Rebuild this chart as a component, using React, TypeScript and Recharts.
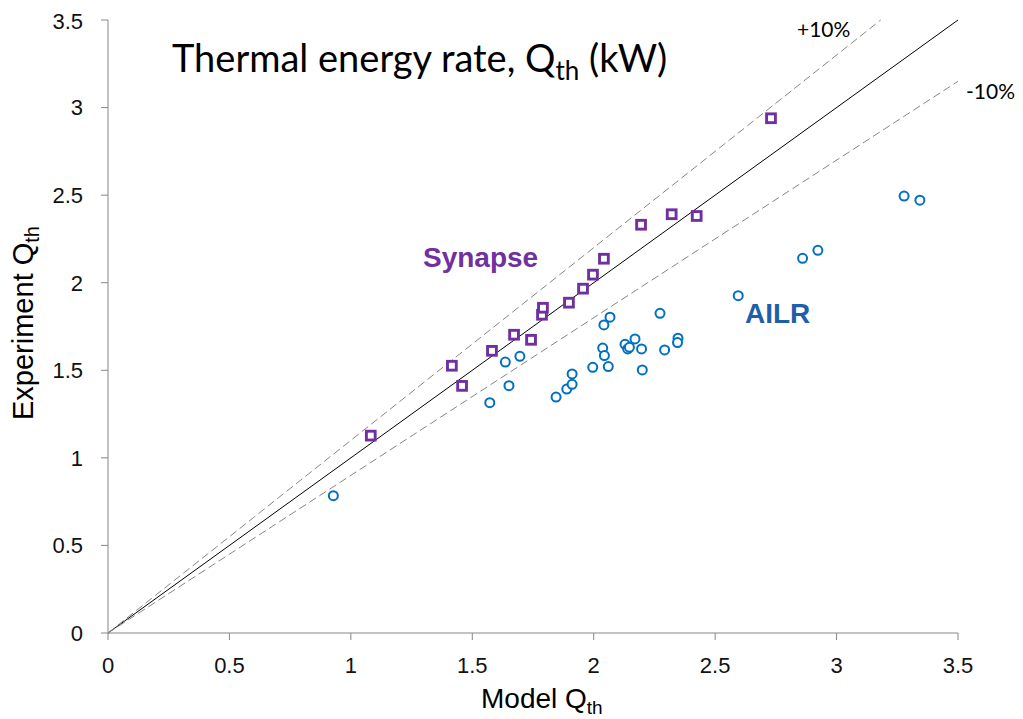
import React from "react";
import {
  ScatterChart,
  Scatter,
  XAxis,
  YAxis,
  ReferenceLine,
} from "recharts";

// model vs experiment, kW
const synapseModel = [
  1.082, 1.416, 1.458, 1.581, 1.672, 1.742, 1.787, 1.791, 1.898, 1.956,
  1.997, 2.042, 2.195, 2.321, 2.424, 2.73,
];
const synapseExp = [
  1.127, 1.526, 1.411, 1.611, 1.703, 1.674, 1.817, 1.857, 1.886, 1.966,
  2.046, 2.137, 2.331, 2.391, 2.381, 2.939,
];

const ailrModel = [
  0.928, 1.572, 1.636, 1.651, 1.696, 1.845, 1.889, 1.911, 1.911, 1.996,
  2.042, 2.067, 2.037, 2.044, 2.06, 2.129, 2.14, 2.147, 2.17, 2.197,
  2.2, 2.273, 2.292, 2.347, 2.345, 2.595, 2.86, 2.923, 3.278, 3.343,
];
const ailrExp = [
  0.784, 1.315, 1.547, 1.412, 1.58, 1.347, 1.393, 1.42, 1.479, 1.517,
  1.759, 1.803, 1.627, 1.584, 1.521, 1.648, 1.622, 1.631, 1.679, 1.622,
  1.502, 1.825, 1.616, 1.683, 1.658, 1.926, 2.139, 2.185, 2.495, 2.471,
];

const axisTicks = [0, 0.5, 1, 1.5, 2, 2.5, 3, 3.5];
const AXIS_MAX = 3.5;
const BAND = 0.1; // +/-10%

const synapse = synapseModel.map((x, i) => ({ x, y: synapseExp[i] }));
const ailr = ailrModel.map((x, i) => ({ x, y: ailrExp[i] }));

const PURPLE = "#7030A0";
const BLUE = "#0070C0";
const GREY = "#868686";
const SANS = "'Liberation Sans', Arial, sans-serif";

const SquareMark = (props: any) => {
  const { cx, cy } = props;
  return (
    <rect
      x={cx - 4.4}
      y={cy - 4.4}
      width={8.8}
      height={8.8}
      fill="#fff"
      stroke={PURPLE}
      strokeWidth={2.9}
    />
  );
};

const CircleMark = (props: any) => {
  const { cx, cy } = props;
  return (
    <circle
      cx={cx}
      cy={cy}
      r={4.5}
      fill="#fff"
      stroke={BLUE}
      strokeWidth={2}
    />
  );
};

const fmt = (v: number) => String(v);

export default function App() {
  return (
    <div style={{ position: "relative", width: 1015, height: 711 }}>
      <ScatterChart
        width={1015}
        height={711}
        margin={{ top: 12, right: 65, bottom: 0, left: 0 }}
      >
        <XAxis
          type="number"
          dataKey="x"
          domain={[0, AXIS_MAX]}
          ticks={axisTicks}
          tickFormatter={fmt}
          height={86}
          tickSize={7}
          tickMargin={17}
          axisLine={{ stroke: GREY }}
          tickLine={{ stroke: GREY }}
          tick={{ fill: "#111", fontSize: 22, fontFamily: SANS }}
        />
        <YAxis
          type="number"
          dataKey="y"
          domain={[0, AXIS_MAX]}
          ticks={axisTicks}
          tickFormatter={fmt}
          width={100}
          tickSize={7}
          tickMargin={18}
          axisLine={{ stroke: GREY }}
          tickLine={{ stroke: GREY }}
          tick={{ fill: "#111", fontSize: 22, fontFamily: SANS }}
        />

        {/* 1:1 line and the +/-10% band */}
        <ReferenceLine
          segment={[
            { x: 0, y: 0 },
            { x: AXIS_MAX, y: AXIS_MAX },
          ]}
          stroke="#000"
          strokeWidth={1}
        />
        <ReferenceLine
          segment={[
            { x: 0, y: 0 },
            { x: AXIS_MAX / (1 + BAND), y: AXIS_MAX },
          ]}
          stroke={GREY}
          strokeWidth={1}
          strokeDasharray="8 4"
        />
        <ReferenceLine
          segment={[
            { x: 0, y: 0 },
            { x: AXIS_MAX, y: AXIS_MAX * (1 - BAND) },
          ]}
          stroke={GREY}
          strokeWidth={1}
          strokeDasharray="8 4"
        />

        <Scatter
          data={ailr}
          shape={CircleMark}
          isAnimationActive={false}
        />
        <Scatter
          data={synapse}
          shape={SquareMark}
          isAnimationActive={false}
        />
      </ScatterChart>

      <svg
        width={1015}
        height={711}
        style={{ position: "absolute", left: 0, top: 0, pointerEvents: "none" }}
      >
        <text
          x={164}
          y={64}
          fontFamily="Lato, 'Open Sans', sans-serif"
          fontSize={38}
          fill="#000"
        >
          Thermal energy rate, Q
          <tspan fontSize={26} dy={8}>
            th
          </tspan>
          <tspan dy={-8}> (kW)</tspan>
        </text>

        <text x={789} y={29} fontFamily="Lato, sans-serif" fontSize={21} fill="#000">
          +10%
        </text>
        <text x={958} y={91} fontFamily="Lato, sans-serif" fontSize={21} fill="#000">
          -10%
        </text>

        <text
          x={415}
          y={259}
          fontFamily={SANS}
          fontWeight="bold"
          fontSize={28}
          fill={PURPLE}
        >
          Synapse
        </text>
        <text
          x={737}
          y={315}
          fontFamily={SANS}
          fontWeight="bold"
          fontSize={28}
          fill="#1F5FA9"
        >
          AILR
        </text>

        <text x={473} y={700} fontFamily={SANS} fontSize={28} fill="#000">
          Model Q
          <tspan fontSize={19} dy={6}>
            th
          </tspan>
        </text>

        <text
          transform="translate(25 315) rotate(-90)"
          textAnchor="middle"
          fontFamily={SANS}
          fontSize={29}
          fill="#000"
        >
          Experiment Q
          <tspan fontSize={20} dy={6}>
            th
          </tspan>
        </text>
      </svg>
    </div>
  );
}
